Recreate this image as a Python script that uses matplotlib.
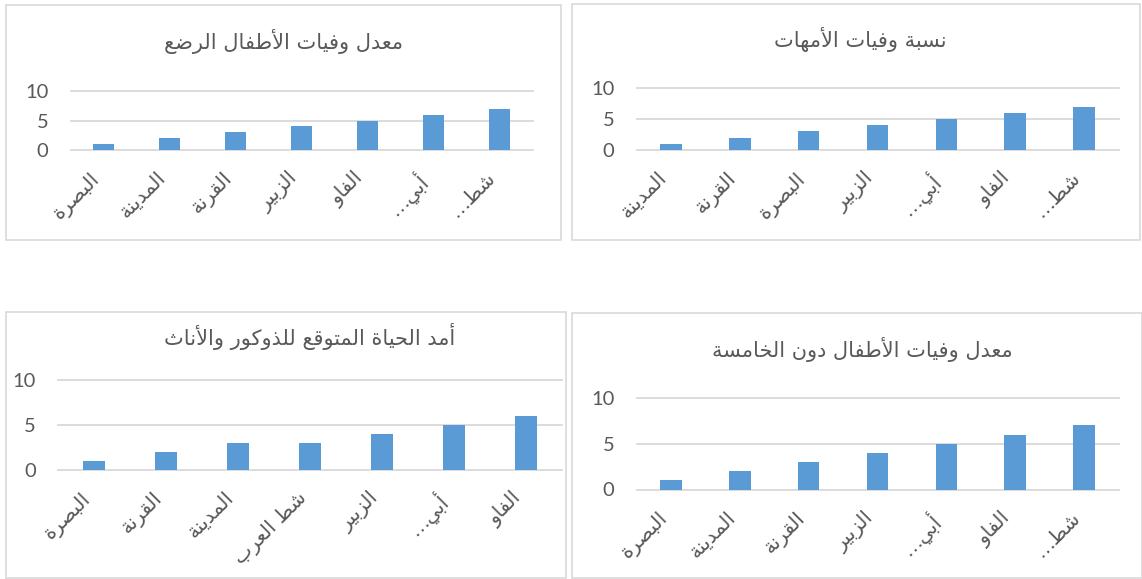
import matplotlib
matplotlib.use('Agg')
import matplotlib.pyplot as plt
from matplotlib.patches import Rectangle
from matplotlib.transforms import ScaledTranslation

# chart data
infant_title = 'معدل وفيات الأطفال الرضع'
infant_cats = ['البصرة', 'المدينة', 'القرنة', 'الزبير', 'الفاو', 'أبي…', 'شط…']
infant_vals = [1, 2, 3, 4, 5, 6, 7]

maternal_title = 'نسبة وفيات الأمهات'
maternal_cats = ['المدينة', 'القرنة', 'البصرة', 'الزبير', 'أبي…', 'الفاو', 'شط…']
maternal_vals = [1, 2, 3, 4, 5, 6, 7]

life_title = 'أمد الحياة المتوقع للذوكور والأناث'
life_cats = ['البصرة', 'القرنة', 'المدينة', 'شط العرب', 'الزبير', 'أبي…', 'الفاو']
life_vals = [1, 2, 3, 3, 4, 5, 6]

under5_title = 'معدل وفيات الأطفال دون الخامسة'
under5_cats = ['البصرة', 'المدينة', 'القرنة', 'الزبير', 'أبي…', 'الفاو', 'شط…']
under5_vals = [1, 2, 3, 4, 5, 6, 7]

y_ticks = [0, 5, 10]

# --- minimal arabic shaping (matplotlib has no RTL / joining support) ---
DUAL = {'ب': 0xFE8F, 'ت': 0xFE95, 'ث': 0xFE99, 'ج': 0xFE9D, 'ح': 0xFEA1,
        'خ': 0xFEA5, 'س': 0xFEB1, 'ش': 0xFEB5, 'ص': 0xFEB9, 'ض': 0xFEBD,
        'ط': 0xFEC1, 'ظ': 0xFEC5, 'ع': 0xFEC9, 'غ': 0xFECD, 'ف': 0xFED1,
        'ق': 0xFED5, 'ك': 0xFED9, 'ل': 0xFEDD, 'م': 0xFEE1, 'ن': 0xFEE5,
        'ه': 0xFEE9, 'ي': 0xFEF1}
RIGHT = {'ا': 0xFE8D, 'أ': 0xFE83, 'إ': 0xFE87, 'آ': 0xFE81, 'د': 0xFEA9,
         'ذ': 0xFEAB, 'ر': 0xFEAD, 'ز': 0xFEAF, 'و': 0xFEED, 'ة': 0xFE93,
         'ى': 0xFEEF}
LAM_ALEF = {'ا': 0xFEFB, 'أ': 0xFEF7, 'إ': 0xFEF9, 'آ': 0xFEF5}


def shape(text):
    toks = []
    i = 0
    while i < len(text):
        c = text[i]
        if c == 'ل' and i + 1 < len(text) and text[i + 1] in LAM_ALEF:
            toks.append(('la', text[i + 1]))
            i += 2
        else:
            toks.append(c)
            i += 1

    def is_letter(t):
        return isinstance(t, tuple) or t in DUAL or t in RIGHT

    def joins_left(t):
        return (not isinstance(t, tuple)) and t in DUAL

    out = []
    for k, t in enumerate(toks):
        prev = toks[k - 1] if k > 0 else None
        nxt = toks[k + 1] if k + 1 < len(toks) else None
        jp = prev is not None and joins_left(prev) and is_letter(t)
        if isinstance(t, tuple):
            out.append(chr(LAM_ALEF[t[1]] + (1 if jp else 0)))
        elif t in DUAL:
            jn = nxt is not None and is_letter(nxt)
            if jp and jn:
                out.append(chr(DUAL[t] + 3))
            elif jp:
                out.append(chr(DUAL[t] + 1))
            elif jn:
                out.append(chr(DUAL[t] + 2))
            else:
                out.append(chr(DUAL[t]))
        elif t in RIGHT:
            out.append(chr(RIGHT[t] + (1 if jp else 0)))
        else:
            out.append(t)
    return ''.join(reversed(out))


W, H = 1142, 579
fig = plt.figure(figsize=(W / 100, H / 100), dpi=100)

text_col = '#595959'
grid_col = '#D9D9D9'
bar_col = '#5B9BD5'

# (title, cats, vals, box x0,y0,x1,y1, plot left,right,top,bottom, title x,y) in pixels
panels = [
    (infant_title, infant_cats, infant_vals, (6, 5, 561, 240), (70.5, 532.5, 91, 150), (284, 42)),
    (maternal_title, maternal_cats, maternal_vals, (572, 4, 1140, 240), (636.5, 1118.5, 88, 150), (860, 40)),
    (life_title, life_cats, life_vals, (6, 312, 566, 578), (58, 562, 380, 470), (310, 337)),
    (under5_title, under5_cats, under5_vals, (572, 313, 1142, 578), (636.5, 1118.5, 398, 489.5), (862, 349)),
]

shift = ScaledTranslation(5 / 100, 0, fig.dpi_scale_trans)

for title, cats, vals, box, plot, tpos in panels:
    x0, y0, x1, y1 = box
    fig.add_artist(Rectangle((x0 / W, 1 - y1 / H), (x1 - x0) / W, (y1 - y0) / H,
                             transform=fig.transFigure, fill=False,
                             edgecolor=grid_col, lw=1.2))
    l, r, t, b = plot
    ax = fig.add_axes([l / W, 1 - b / H, (r - l) / W, (b - t) / H])
    ax.bar(range(len(vals)), vals, width=0.315, color=bar_col, zorder=3)
    ax.set_xlim(-0.5, len(vals) - 0.5)
    ax.set_ylim(0, 10)
    ax.set_yticks(y_ticks)
    ax.set_yticklabels([str(v) for v in y_ticks], family=['Lato', 'DejaVu Sans'],
                       fontsize=14.5, color=text_col)
    ax.set_xticks(range(len(cats)))
    ax.set_xticklabels([shape(c) for c in cats], rotation=45, ha='right', va='top',
                       fontsize=14.5, color=text_col, family='DejaVu Sans')
    for lab in ax.get_xticklabels():
        lab.set_transform(lab.get_transform() + shift)
    ax.tick_params(axis='both', length=0)
    ax.tick_params(axis='y', pad=16)
    ax.tick_params(axis='x', pad=13)
    ax.grid(axis='y', color=grid_col, lw=1.3, zorder=0)
    for gl in ax.get_ygridlines():
        gl.set_clip_on(False)
    for s in ax.spines.values():
        s.set_visible(False)
    ax.set_facecolor('none')
    fig.text(tpos[0] / W, 1 - tpos[1] / H, shape(title), ha='center', va='center',
             fontsize=15, color=text_col, family='DejaVu Sans')

plt.savefig('out.png', dpi=100)
